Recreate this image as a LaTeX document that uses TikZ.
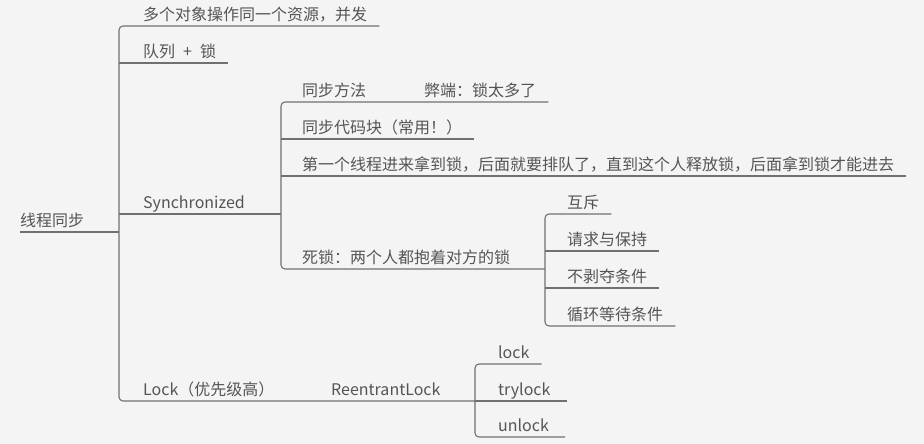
\documentclass[tikz,border=0pt]{standalone}
\usepackage{fontspec}
\newfontfamily\cjk{Noto Sans CJK SC}
\usepackage{xcolor}
\definecolor{mapbg}{RGB}{244,244,244}
\definecolor{mapline}{RGB}{112,112,112}
\definecolor{maptext}{RGB}{85,85,85}
\usepackage{tikz}

\begin{document}
\begin{tikzpicture}[x=1pt, y=-1pt]

  \tikzstyle{topic} = [
    anchor=south west,
    inner xsep=0pt, inner ysep=0pt,
    text height=12pt, text depth=5pt,
    font=\cjk\fontsize{16}{18}\selectfont, text=maptext
  ]
  \tikzstyle{branch} = [draw=mapline, line width=1.1pt, rounded corners=4pt]

  \fill[mapbg] (0,0) rectangle (924,444);
  \useasboundingbox (0,0) rectangle (924,444);

  \coordinate (j0) at (119,232);
  \coordinate (j1) at (281,214);
  \coordinate (j2) at (475,401);
  \coordinate (j3) at (545,269);

  \node[topic] (root) at (20,232) {线程同步};

  \node[topic] (t1) at (143,26)  {多个对象操作同一个资源，并发};
  \node[topic] (t2) at (143,63)  {队列\enskip+\enskip 锁};
  \node[topic] (sy) at (143,214) {Synchronized};
  \node[topic] (lk) at (143,401) {Lock（优先级高）};
  \node[topic] (rl) at (331,401) {ReentrantLock};

  \node[topic] (s1)  at (302,102) {同步方法};
  \node[topic] (s1b) at (424,102) {弊端：锁太多了};
  \node[topic] (s2)  at (302,139) {同步代码块（常用！）};
  \node[topic] (s3)  at (302,176) {第一个线程进来拿到锁，后面就要排队了，直到这个人释放锁，后面拿到锁才能进去};
  \node[topic] (s4)  at (302,269) {死锁：两个人都抱着对方的锁};

  \node[topic] (d1) at (567,214) {互斥};
  \node[topic] (d2) at (567,251) {请求与保持};
  \node[topic] (d3) at (567,288) {不剥夺条件};
  \node[topic] (d4) at (567,326) {循环等待条件};

  \node[topic] (l1) at (498,364) {lock};
  \node[topic] (l2) at (498,401) {trylock};
  \node[topic] (l3) at (498,437) {unlock};

  \draw[branch] (root.south west) -- (j0);
  \draw[branch] ([xshift=12pt]t1.south east) -| (j0 |- lk.south) -- (lk.south east) -- (rl.south east) -- (j2);
  \draw[branch] (j0 |- t2.south) -- ([xshift=12pt]t2.south east);
  \draw[branch] (j0 |- sy.south) -- (sy.south east) -- (j1);

  \draw[branch] ([xshift=12pt]s1b.south east) -- (s1.south west) -| (j1 |- s4.south) -- (s4.south east) -- (j3);
  \draw[branch] (j1 |- s2.south) -- ([xshift=12pt]s2.south east);
  \draw[branch] (j1 |- s3.south) -- ([xshift=12pt]s3.south east);

  \draw[branch] ([xshift=12pt]d1.south east) -| (j3 |- d4.south) -- ([xshift=12pt]d4.south east);
  \draw[branch] (j3 |- d2.south) -- ([xshift=12pt]d2.south east);
  \draw[branch] (j3 |- d3.south) -- ([xshift=12pt]d3.south east);

  \draw[branch] ([xshift=12pt]l1.south east) -| (j2 |- l3.south) -- ([xshift=16pt]l3.south east);
  \draw[branch] (j2 |- l2.south) -- ([xshift=16pt]l2.south east);

\end{tikzpicture}
\end{document}
